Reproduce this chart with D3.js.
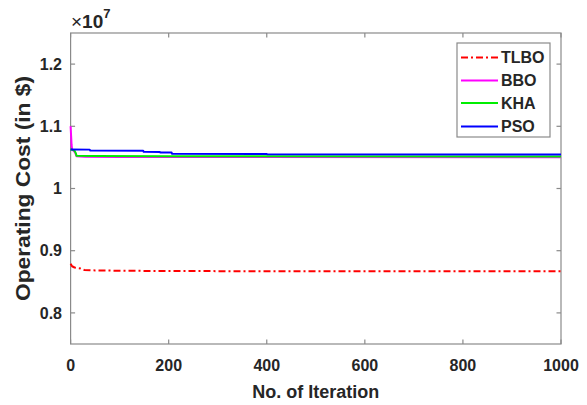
<!DOCTYPE html>
<html><head><meta charset="utf-8">
<script src="https://cdn.jsdelivr.net/npm/d3@7"></script>
<style>
html,body{margin:0;padding:0;background:#fff;}
text{font-family:"Liberation Sans",Arial,sans-serif;font-weight:bold;fill:#262626;}
</style></head>
<body><svg id="c" width="587" height="405"></svg>
<script>
// Data (operating cost in $)
const seriesNames = ["TLBO","BBO","KHA","PSO"];
const seriesColors = ["#ff0000","#ff00ff","#00ee00","#0000ff"];
const tlboIter = [0,3,8,20,28,50,100,200,400,1000];
const tlboCost = [8790000,8750000,8730000,8715000,8690000,8683000,8678000,8673000,8670000,8668000];
const bboIter = [0,1,2,3,5,9,12,30,100,1000];
const bboCost = [11000000,10850000,10700000,10630000,10615000,10580000,10520000,10512000,10508000,10503000];
const khaIter = [0,8,11,12,50,200,1000];
const khaCost = [10630000,10610000,10560000,10528000,10523000,10520000,10515000];
const psoIter = [0,39,40,148,149,182,183,206,207,400,401,1000];
const psoCost = [10627000,10625000,10610000,10608000,10590000,10588000,10580000,10578000,10558000,10556000,10549000,10548000];
const xTicks = [0,200,400,600,800,1000];
const yTicks = [8000000,9000000,10000000,11000000,12000000];
const yTickLabels = ["0.8","0.9","1","1.1","1.2"];

const svg = d3.select("#c");
const L=70.6, R=561, T=33, B=344;
const x = d3.scaleLinear().domain([0,1000]).range([L,R]);
const y = d3.scaleLinear().domain([7500000,12500000]).range([B,T]);
const axisColor = "#8a8a8a";

// box
svg.append("rect").attr("x",L).attr("y",T).attr("width",R-L).attr("height",B-T)
  .attr("fill","none").attr("stroke",axisColor).attr("stroke-width",1.2);

// ticks (inward, mirrored)
const tl=4.5;
xTicks.forEach(v=>{
  svg.append("line").attr("x1",x(v)).attr("x2",x(v)).attr("y1",B).attr("y2",B-tl).attr("stroke",axisColor).attr("stroke-width",1.2);
  svg.append("line").attr("x1",x(v)).attr("x2",x(v)).attr("y1",T).attr("y2",T+tl).attr("stroke",axisColor).attr("stroke-width",1.2);
  svg.append("text").attr("x",x(v)).attr("y",371).attr("text-anchor","middle").attr("font-size",16).text(d3.format("d")(v));
});
yTicks.forEach((v,i)=>{
  svg.append("line").attr("x1",L).attr("x2",L+tl).attr("y1",y(v)).attr("y2",y(v)).attr("stroke",axisColor).attr("stroke-width",1.2);
  svg.append("line").attr("x1",R).attr("x2",R-tl).attr("y1",y(v)).attr("y2",y(v)).attr("stroke",axisColor).attr("stroke-width",1.2);
  svg.append("text").attr("x",62).attr("y",y(v)).attr("dy","0.36em").attr("text-anchor","end").attr("font-size",16).text(yTickLabels[i]);
});

// exponent
const ex = svg.append("text").attr("x",71).attr("y",28).attr("font-size",19);
ex.append("tspan").attr("font-weight","normal").text("×");
ex.append("tspan").text("10");
ex.append("tspan").attr("dy",-10).attr("font-size",13).text("7");

// axis labels
svg.append("text").attr("x",(L+R)/2).attr("y",398).attr("text-anchor","middle").attr("font-size",18).text("No. of Iteration");
svg.append("text").attr("transform",`translate(30,${(T+B)/2}) rotate(-90)`).attr("text-anchor","middle").attr("font-size",20).attr("textLength",225).attr("lengthAdjust","spacingAndGlyphs").text("Operating Cost (in $)");

// lines
const line = d3.line().x(d=>x(d[0])).y(d=>y(d[1]));
const allData = [
  d3.zip(tlboIter,tlboCost),
  d3.zip(bboIter,bboCost),
  d3.zip(khaIter,khaCost),
  d3.zip(psoIter,psoCost)
];
const g = svg.append("g");
allData.forEach((d,i)=>{
  g.append("path").attr("d",line(d)).attr("fill","none").attr("stroke",seriesColors[i])
   .attr("stroke-width",2).attr("stroke-dasharray", i===0 ? "7,3,2,3" : null)
   .attr("stroke-linejoin","round");
});

// legend
const lx=457, ly=43, lw=93, lh=94;
svg.append("rect").attr("x",lx).attr("y",ly).attr("width",lw).attr("height",lh).attr("fill","#fff").attr("stroke",axisColor).attr("stroke-width",1.2);
const rowY = [57.5,80.5,103,126.5];
seriesNames.forEach((n,i)=>{
  svg.append("line").attr("x1",461).attr("x2",498).attr("y1",rowY[i]).attr("y2",rowY[i])
    .attr("stroke",seriesColors[i]).attr("stroke-width",2).attr("stroke-dasharray", i===0 ? "7,3,2,3" : null);
  svg.append("text").attr("x",501).attr("y",rowY[i]).attr("dy","0.36em").attr("font-size",16).text(n);
});
</script></body></html>
